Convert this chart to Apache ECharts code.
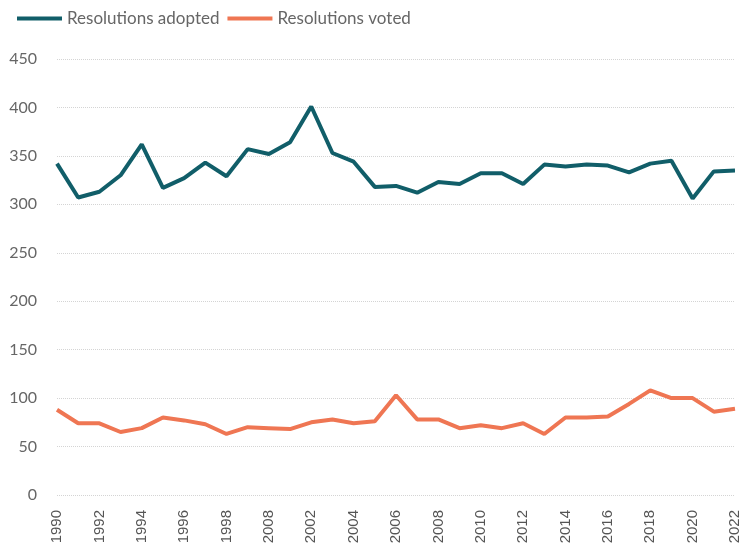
<!DOCTYPE html>
<html>
<head>
<meta charset="utf-8">
<script src="https://cdn.jsdelivr.net/npm/echarts@6/dist/echarts.min.js"></script>
<style>
  html, body { margin: 0; padding: 0; background: #fff; }
  #chart { width: 746px; height: 552px; }
</style>
</head>
<body>
<div id="chart"></div>
<script>
// year labels as printed on the chart (2000 is labelled "2008" in the source)
const years = ['1990', '1991', '1992', '1993', '1994', '1995', '1996', '1997', '1998', '1999',
  '2008', '2001', '2002', '2003', '2004', '2005', '2006', '2007', '2008', '2009',
  '2010', '2011', '2012', '2013', '2014', '2015', '2016', '2017', '2018', '2019',
  '2020', '2021', '2022']

const adopted = [342, 307, 313, 330, 362, 317, 327, 343, 329, 357,
  352, 364, 401, 353, 344, 318, 319, 312, 323, 321,
  332, 332, 321, 341, 339, 341, 340, 333, 342, 345,
  306, 334, 335]

const voted = [88, 74, 74, 65, 69, 80, 77, 73, 63, 70,
  69, 68, 75, 78, 74, 76, 103, 78, 78, 69,
  72, 69, 74, 63, 80, 80, 81, 94, 108, 100,
  100, 86, 89]

const chart = echarts.init(document.getElementById('chart'))

chart.setOption({
  animation: false,
  color: ['#115e69', '#ef7653'],
  legend: {
    left: 12,
    top: 5,
    itemWidth: 45,
    itemHeight: 4,
    itemGap: 8,
    icon: 'rect',
    textStyle: { color: '#666', fontSize: 17, fontFamily: 'Lato' },
    data: ['Resolutions adopted', 'Resolutions voted'],
  },
  grid: { left: 57, right: 11, top: 59, bottom: 57 },
  xAxis: {
    type: 'category',
    data: years,
    boundaryGap: false,
    axisLine: { show: false },
    axisTick: { show: false },
    axisLabel: {
      interval: 1,
      rotate: 90,
      margin: 15,
      color: '#555',
      fontSize: 15,
      fontFamily: 'Liberation Sans',
    },
  },
  yAxis: {
    type: 'value',
    min: 0,
    max: 450,
    interval: 50,
    axisLine: { show: false },
    axisTick: { show: false },
    axisLabel: { color: '#666', fontSize: 16, fontFamily: 'Lato', margin: 20 },
    splitLine: { lineStyle: { color: '#d4d4d4', type: 'dotted', width: 1 } },
  },
  series: [
    {
      name: 'Resolutions adopted',
      type: 'line',
      data: adopted,
      symbol: 'none',
      lineStyle: { width: 4 },
    },
    {
      name: 'Resolutions voted',
      type: 'line',
      data: voted,
      symbol: 'none',
      lineStyle: { width: 4 },
    },
  ],
})
</script>
</body>
</html>
